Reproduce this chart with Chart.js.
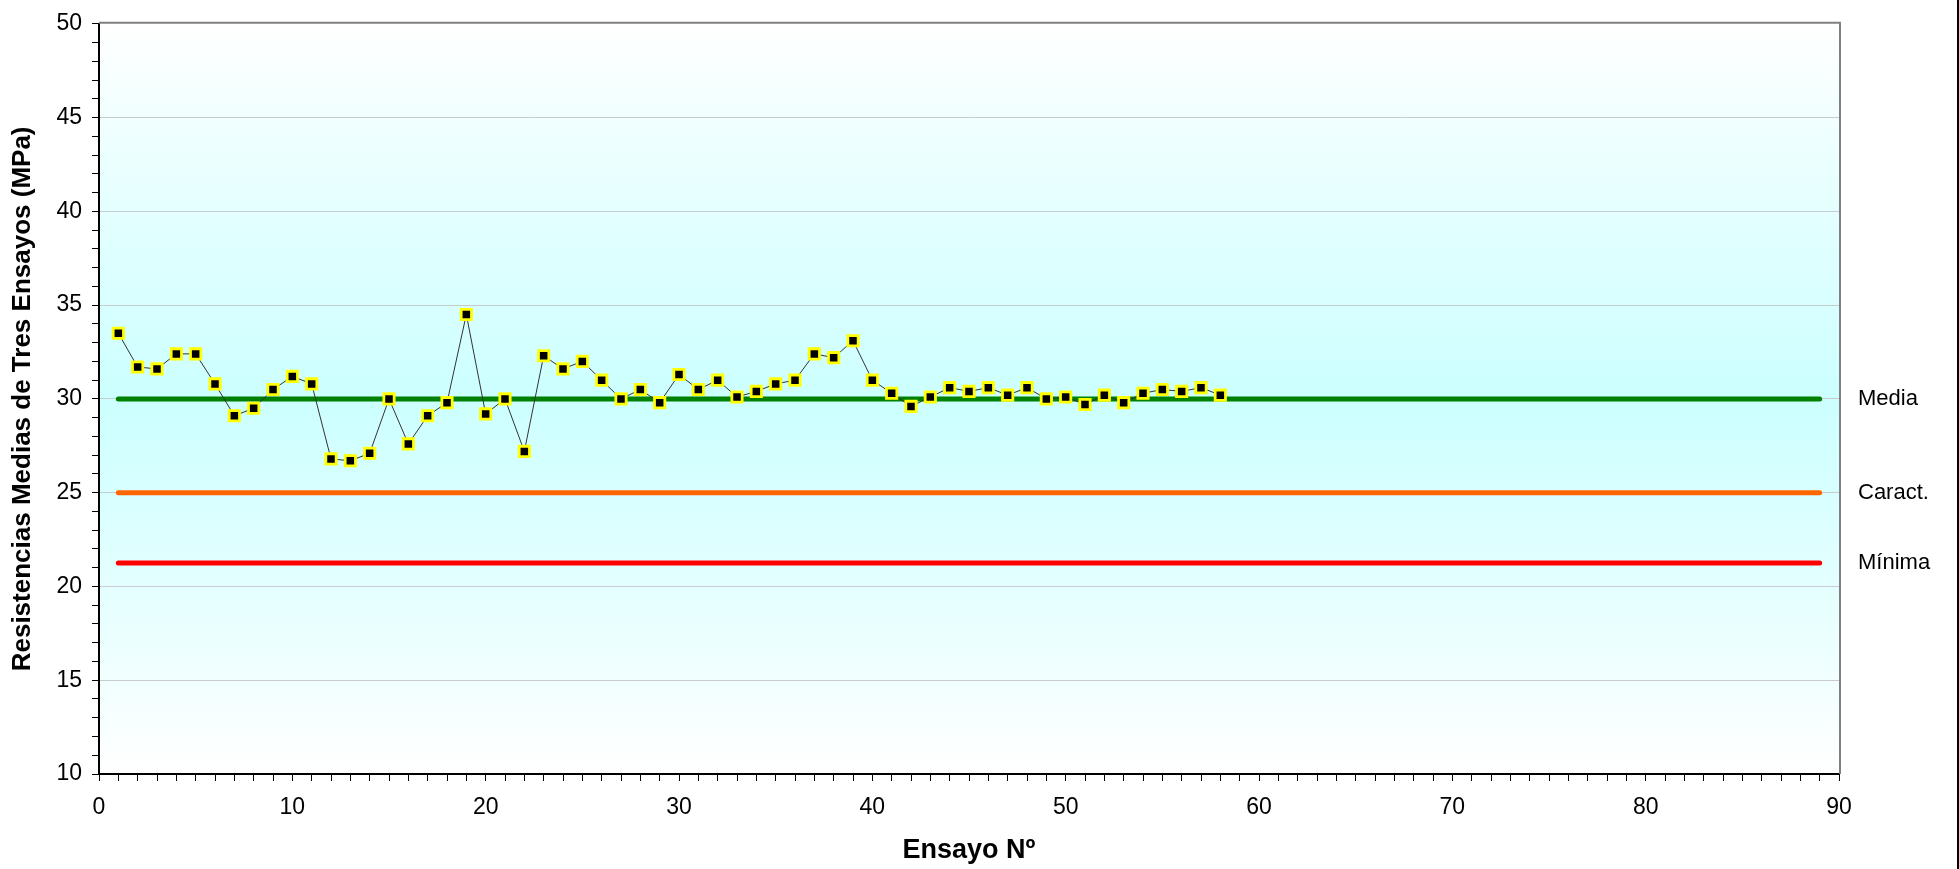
<!DOCTYPE html>
<html>
<head>
<meta charset="utf-8">
<title>Resistencias Medias de Tres Ensayos</title>
<script src="https://cdn.jsdelivr.net/npm/chart.js@4.4.1/dist/chart.umd.min.js"></script>
<style>
  html, body { margin: 0; padding: 0; background: #ffffff; }
  #chart { display: block; }
</style>
</head>
<body>
<canvas id="chart" width="1959" height="869"></canvas>
<script>
// Ensayo number for each mean strength result
const ensayos = [
  1, 2, 3, 4, 5, 6, 7, 8, 9, 10,
  11, 12, 13, 14, 15, 16, 17, 18, 19, 20,
  21, 22, 23, 24, 25, 26, 27, 28, 29, 30,
  31, 32, 33, 34, 35, 36, 37, 38, 39, 40,
  41, 42, 43, 44, 45, 46, 47, 48, 49, 50,
  51, 52, 53, 54, 55, 56, 57, 58
];

// Mean of three tests (MPa)
const resistencias = [
  33.5, 31.7, 31.6, 32.4, 32.4, 30.8, 29.1, 29.5, 30.5, 31.2,
  30.8, 26.8, 26.7, 27.1, 30.0, 27.6, 29.1, 29.8, 34.5, 29.2,
  30.0, 27.2, 32.3, 31.6, 32.0, 31.0, 30.0, 30.5, 29.8, 31.3,
  30.5, 31.0, 30.1, 30.4, 30.8, 31.0, 32.4, 32.2, 33.1, 31.0,
  30.3, 29.6, 30.1, 30.6, 30.4, 30.6, 30.2, 30.6, 30.0, 30.1,
  29.7, 30.2, 29.8, 30.3, 30.5, 30.4, 30.6, 30.2
];

// Reference levels drawn across the whole test range
const refNombres = ['Media', 'Caract.', 'Mínima'];
const refValores = [30, 25, 21.25];
const refColores = ['#008000', '#ff6600', '#ff0000'];
const refDesde = 1;
const refHasta = 89;

// Axis ranges and label steps
const xMin = 0, xMax = 90, xLabelStep = 10;
const yMin = 10, yMax = 50, yLabelStep = 5;

const FONT = '"Liberation Sans", Arial, sans-serif';

const refDatasets = refNombres.map((nombre, i) => ({
  label: nombre,
  data: [{ x: refDesde, y: refValores[i] }, { x: refHasta, y: refValores[i] }],
  showLine: true,
  borderColor: refColores[i],
  borderWidth: 5,
  borderCapStyle: 'round',
  pointRadius: 0,
  pointHoverRadius: 0,
  fill: false
}));

const plotDecor = {
  id: 'plotDecor',
  beforeDraw(chart) {
    const { ctx, chartArea: a } = chart;
    const g = ctx.createLinearGradient(0, a.top, 0, a.bottom);
    g.addColorStop(0, '#ffffff');
    g.addColorStop(0.25, '#e4ffff');
    g.addColorStop(0.5, '#ccffff');
    g.addColorStop(0.75, '#e4ffff');
    g.addColorStop(1, '#ffffff');
    ctx.save();
    ctx.fillStyle = g;
    ctx.fillRect(a.left, a.top, a.right - a.left, a.bottom - a.top);
    ctx.restore();
  },
  afterDraw(chart) {
    const { ctx, chartArea: a, scales } = chart;
    ctx.save();
    // grey frame on the top and right sides of the plot
    ctx.strokeStyle = '#808080';
    ctx.lineWidth = 2;
    ctx.beginPath();
    ctx.moveTo(a.left, a.top - 1);
    ctx.lineTo(a.right + 1, a.top - 1);
    ctx.lineTo(a.right + 1, a.bottom);
    ctx.stroke();
    // names of the reference levels, beside the plot
    ctx.fillStyle = '#000000';
    ctx.font = '22px ' + FONT;
    ctx.textAlign = 'left';
    ctx.textBaseline = 'middle';
    refNombres.forEach((nombre, i) => {
      ctx.fillText(nombre, a.right + 19, scales.y.getPixelForValue(refValores[i]));
    });
    // dark edge on the right of the canvas
    ctx.fillStyle = '#000000';
    ctx.fillRect(chart.width - 2, 0, 2, chart.height);
    ctx.restore();
  }
};

new Chart(document.getElementById('chart'), {
  type: 'scatter',
  data: {
    datasets: [
      {
        label: 'Resistencia media',
        data: ensayos.map((n, i) => ({ x: n, y: resistencias[i] })),
        showLine: true,
        borderColor: '#333333',
        borderWidth: 1,
        pointStyle: 'rect',
        pointRadius: 7.3,
        pointBackgroundColor: '#000000',
        pointBorderColor: '#ffff00',
        pointBorderWidth: 2.8,
        fill: false
      },
      ...refDatasets
    ]
  },
  options: {
    responsive: false,
    animation: false,
    events: [],
    layout: { padding: { left: 0, right: 120, top: 20, bottom: 0 } },
    plugins: {
      legend: { display: false },
      tooltip: { enabled: false }
    },
    scales: {
      x: {
        type: 'linear',
        min: xMin,
        max: xMax,
        afterFit(scale) { scale.height = 95; },
        border: { color: '#000000', width: 2 },
        grid: {
          drawOnChartArea: false,
          tickLength: 7,
          tickColor: '#000000',
          tickWidth: 1
        },
        ticks: {
          stepSize: 1,
          autoSkip: false,
          maxRotation: 0,
          padding: 13,
          color: '#000000',
          font: { family: FONT, size: 23 },
          callback: v => (v % xLabelStep === 0 ? String(v) : '')
        },
        title: {
          display: true,
          text: 'Ensayo Nº',
          color: '#000000',
          font: { family: FONT, size: 27, weight: 'bold' },
          padding: { top: 0, bottom: 2 }
        }
      },
      y: {
        type: 'linear',
        min: yMin,
        max: yMax,
        afterFit(scale) { scale.width = 99; },
        border: { color: '#000000', width: 2 },
        grid: {
          drawOnChartArea: true,
          color: ctx => {
            const v = ctx.tick ? ctx.tick.value : null;
            return (v !== null && v % yLabelStep === 0 && v > yMin && v < yMax) ? '#c8cccc' : 'rgba(0,0,0,0)';
          },
          lineWidth: 1,
          tickLength: 7,
          tickColor: '#000000',
          tickWidth: 1
        },
        ticks: {
          stepSize: 1,
          autoSkip: false,
          padding: 10,
          color: '#000000',
          font: { family: FONT, size: 23 },
          callback: v => (v % yLabelStep === 0 ? String(v) : '')
        },
        title: {
          display: true,
          text: 'Resistencias Medias de Tres Ensayos (MPa)',
          color: '#000000',
          font: { family: FONT, size: 26, weight: 'bold' },
          padding: { top: 7, bottom: 0 }
        }
      }
    }
  },
  plugins: [plotDecor]
});
</script>
</body>
</html>
